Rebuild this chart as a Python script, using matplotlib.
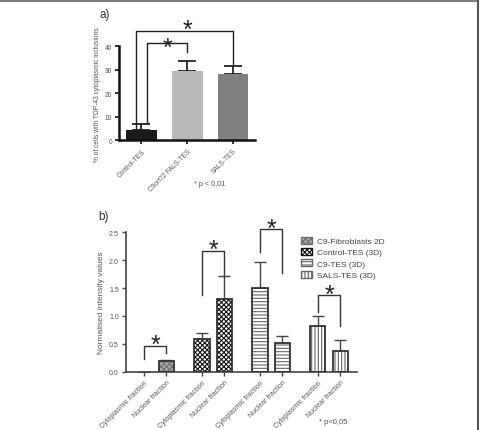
#! /usr/bin/env python

import numpy as np
import matplotlib
matplotlib.use('Agg')
import matplotlib.pyplot as plt
from matplotlib.patches import Patch
from matplotlib.lines import Line2D

matplotlib.rcParams['font.family'] = ['Liberation Sans', 'DejaVu Sans']
matplotlib.rcParams['hatch.linewidth'] = 0.8

# panel a data
a_labels = ['Control-TES', 'C9orf72 FALS-TES', 'SALS-TES']
a_values = [4.3, 29.5, 28.3]
a_errors = [2.5, 4.5, 3.2]
a_colors = ['#1a1a1a', '#b9b9b9', '#808080']

# panel b data
b_groups = ['C9-Fibroblasts 2D', 'Control-TES (3D)', 'C9-TES (3D)', 'SALS-TES (3D)']
b_ticklabels = ['Cytoplasmic fraction', 'Nuclear fraction'] * 4
b_cyto = [0.0, 0.59, 1.50, 0.82]
b_cyto_err = [0.0, 0.11, 0.46, 0.18]
b_nuc = [0.19, 1.30, 0.51, 0.38]
b_nuc_err = [0.02, 0.41, 0.13, 0.19]

tick_color = '#555555'
star_size = 18


def star(ax, x, y):
    # put the centre of the asterisk glyph at (x, y)
    ax.annotate('*', xy=(x, y), xytext=(0, -0.58 * star_size), textcoords='offset points',
                fontsize=star_size, ha='center', va='baseline', color='#222222',
                annotation_clip=False)


fig = plt.figure(figsize=[4.8, 4.31], dpi=100)

# frame lines at top and right
fig.add_artist(Line2D([0, 0.996], [0.995, 0.995], color='#666666', lw=1.2, transform=fig.transFigure))
fig.add_artist(Line2D([0.996, 0.996], [0, 0.995], color='#555555', lw=1.5, transform=fig.transFigure))

# ---------------- panel a ----------------
axa = fig.add_axes([0.248, 0.672, 0.283, 0.218])
xa = np.arange(len(a_values))
axa.bar(xa, a_values, width=0.67, color=a_colors, zorder=2)
for i in range(len(xa)):
    axa.errorbar(xa[i], a_values[i], yerr=[[0], [a_errors[i]]], fmt='none',
                 ecolor='#111111', elinewidth=1.2, capsize=6.5, capthick=1.2, zorder=1)
axa.set_xlim(-0.49, 2.48)
axa.set_ylim(0, 40)
axa.set_yticks([0, 10, 20, 30, 40])
axa.set_xticks(xa)
axa.set_xticklabels(a_labels, rotation=45, ha='right', va='top', rotation_mode='anchor')
for s in ['top', 'right']:
    axa.spines[s].set_visible(False)
for s in ['left', 'bottom']:
    axa.spines[s].set_linewidth(1.8)
    axa.spines[s].set_color('#111111')
axa.tick_params(axis='both', labelsize=4.8, labelcolor=tick_color, length=3, width=1.2,
                color='#111111', pad=2)
axa.set_ylabel('% of cells with TDP-43 cytoplasmic inclusions', fontsize=4.8, color='#555555', labelpad=3)

# significance brackets
axa.plot([0.12, 0.12, 1.0, 1.0], [7.2, 41.4, 41.4, 37.5], color='#222222', lw=1, clip_on=False)
star(axa, 0.575, 42.6)
axa.plot([-0.12, -0.12, 2.0, 2.0], [5.0, 46.5, 46.5, 32.6], color='#222222', lw=1, clip_on=False)
star(axa, 1.01, 50.2)

fig.text(0.208, 0.965, 'a)', fontsize=8.5, color='#333333', ha='left', va='center')
fig.text(0.437, 0.573, '* p < 0,01', fontsize=5.2, color='#555555', ha='center', va='center')

# ---------------- panel b ----------------
axb = fig.add_axes([0.262, 0.135, 0.482, 0.324])
pos_c = np.array([0.0, 2.6, 5.2, 7.8])
pos_n = pos_c + 1.0
hatches = ['xxxxxx', 'xxxxxxx', '-----', '|||||']
faces = ['#a8a8a8', 'white', 'white', 'white']
hcols = ['#707070', '#111111', '#666666', '#666666']
w = 0.68
for g in range(4):
    for x, v in [(pos_c[g], b_cyto[g]), (pos_n[g], b_nuc[g])]:
        if v <= 0:
            continue
        axb.bar(x, v, width=w, color=faces[g], edgecolor=hcols[g], hatch=hatches[g], lw=0, zorder=2)
        axb.bar(x, v, width=w, fill=False, edgecolor='#333333', lw=1.3, zorder=3)
    axb.errorbar(pos_c[g], b_cyto[g], yerr=[[0], [b_cyto_err[g]]], fmt='none',
                 ecolor='#444444', elinewidth=1, capsize=4.3, capthick=1, zorder=1)
    axb.errorbar(pos_n[g], b_nuc[g], yerr=[[0], [b_nuc_err[g]]], fmt='none',
                 ecolor='#444444', elinewidth=1, capsize=4.3, capthick=1, zorder=1)

axb.set_xlim(-0.82, 9.56)
axb.set_ylim(0, 2.5)
axb.set_yticks([0.0, 0.5, 1.0, 1.5, 2.0, 2.5])
axb.set_yticklabels(['0.0', '0.5', '1.0', '1.5', '2.0', '2.5'])
ticks_b = np.ravel(np.column_stack([pos_c, pos_n]))
axb.set_xticks(ticks_b)
axb.set_xticklabels(b_ticklabels, rotation=45, ha='right', va='top', rotation_mode='anchor')
for s in ['top', 'right']:
    axb.spines[s].set_visible(False)
for s in ['left', 'bottom']:
    axb.spines[s].set_linewidth(1.2)
    axb.spines[s].set_color('#444444')
axb.tick_params(axis='both', labelsize=5, labelcolor=tick_color, length=3, width=1,
                color='#444444', pad=2)
axb.set_ylabel('Normalised intensity values', fontsize=6, color='#555555', labelpad=3)

# significance brackets
brackets = [
    (0.0, 1.0, 0.23, 0.46, 0.33, 0.62),
    (2.6, 3.6, 1.37, 2.16, 1.71, 2.32),
    (5.2, 6.2, 2.14, 2.55, 1.77, 2.70),
    (7.8, 8.8, 1.07, 1.38, 0.82, 1.52),
]
for x1, x2, y1, ytop, y2, ystar in brackets:
    axb.plot([x1, x1, x2, x2], [y1, ytop, ytop, y2], color='#333333', lw=1, clip_on=False)
    star(axb, (x1 + x2) / 2, ystar)

handles = [Patch(facecolor=faces[g], edgecolor=hcols[g], hatch=hatches[g], lw=1.0)
           for g in range(4)]
leg = axb.legend(handles, b_groups, loc='upper left', bbox_to_anchor=(0.745, 0.99),
                 frameon=False, fontsize=6, handlelength=1.3, handleheight=0.9,
                 labelspacing=0.35, handletextpad=0.6, borderaxespad=0)
for t in leg.get_texts():
    t.set_color('#444444')

fig.text(0.204, 0.497, 'b)', fontsize=8.5, color='#333333', ha='left', va='center')
fig.text(0.694, 0.019, '* p<0,05', fontsize=5.5, color='#555555', ha='center', va='center')

fig.savefig('out.png', dpi=100)
plt.close(fig)
